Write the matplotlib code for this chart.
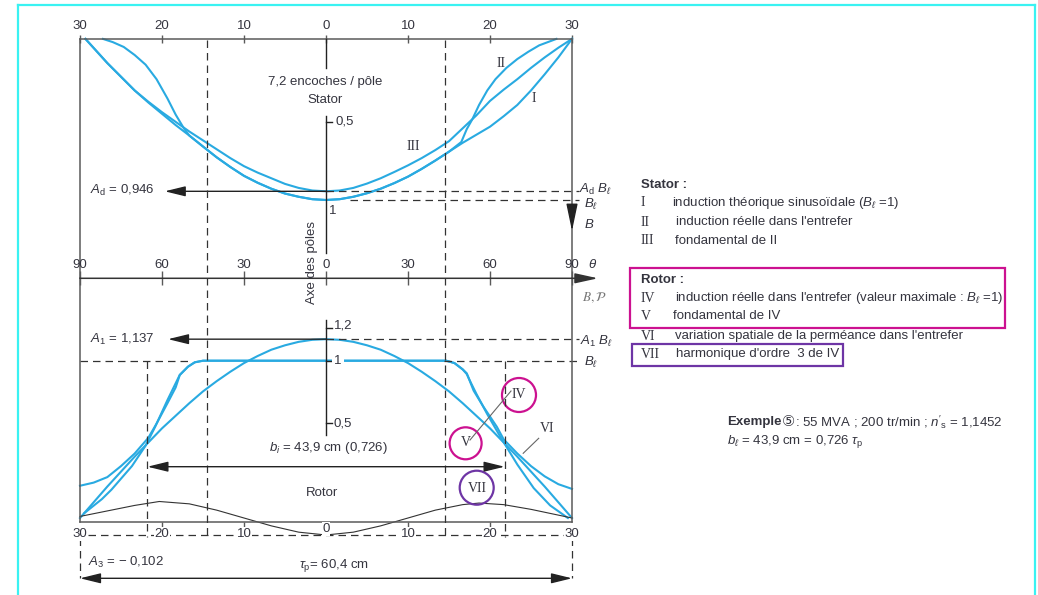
import matplotlib
matplotlib.use('Agg')
import matplotlib.pyplot as plt
from matplotlib import font_manager
from matplotlib.patches import Circle, Rectangle
from matplotlib.transforms import blended_transform_factory


# values (theta in electrical degrees, B in units of B_l)
tick_pos = [-90, -60, -30, 0, 30, 60, 90]
stator_tick_labels = ['30', '20', '10', '0', '10', '20', '30']
theta_tick_labels = ['90', '60', '30', '0', '30', '60', '90']

# stator
theta_I = [-88, -80, -75, -70, -65, -60, -55, -50, -45, -40, -35, -30, -25, -20, -15, -10, -5, 0,
           5, 10, 15, 20, 25, 30, 35, 40, 45, 50, 55, 60, 65, 70, 75, 80, 85, 90]
B_I = [0, 0.15, 0.235, 0.32, 0.395, 0.465, 0.535, 0.6, 0.668, 0.735, 0.795, 0.85, 0.893, 0.93, 0.96, 0.98, 0.995, 1.0,
       0.995, 0.98, 0.958, 0.93, 0.895, 0.855, 0.807, 0.755, 0.7, 0.645, 0.595, 0.545, 0.48, 0.41, 0.32, 0.22, 0.115, 0]
theta_III = [-88, -80, -75, -70, -65, -60, -55, -50, -45, -40, -35, -30, -25, -20, -15, -10, -5, 0,
             5, 10, 15, 20, 25, 30, 35, 40, 45, 50, 55, 60, 65, 70, 75, 80, 85, 90]
B_III = [0, 0.15, 0.235, 0.32, 0.39, 0.455, 0.515, 0.575, 0.63, 0.685, 0.74, 0.79, 0.83, 0.865, 0.9, 0.925, 0.941,
         0.946, 0.941, 0.925, 0.898, 0.865, 0.826, 0.785, 0.74, 0.69, 0.635, 0.555, 0.475, 0.385, 0.315, 0.25, 0.18,
         0.115, 0.055, 0]
theta_II = [-81.6, -78, -74, -70, -66, -62, -58, -55, -52, -50, -45, -40, -35, -30, -25, -20, -15, -10, -5, 0,
            5, 10, 15, 20, 25, 30, 35, 40, 45, 49.5, 51.5, 53.5, 56, 59, 62, 66, 70, 74, 78, 84.3]
B_II = [0, 0.02, 0.05, 0.1, 0.16, 0.25, 0.37, 0.47, 0.555, 0.6, 0.668, 0.735, 0.795, 0.85, 0.893, 0.93, 0.96, 0.98,
        0.995, 1.0, 0.995, 0.98, 0.958, 0.93, 0.895, 0.855, 0.807, 0.755, 0.7, 0.64, 0.56, 0.5, 0.41, 0.32, 0.25,
        0.18, 0.125, 0.08, 0.04, 0]

# rotor
theta_IV = [-88.5, -82, -78.5, -71, -66, -62.5, -58, -53.5, -50.5, -48, -45, 0, 44, 47, 50, 51.5, 53, 55, 59, 64,
            70, 76, 82, 88.5]
B_IV = [0.03, 0.12, 0.18, 0.33, 0.46, 0.58, 0.75, 0.91, 0.962, 0.99, 1.0, 1.0, 1.0, 0.985, 0.945, 0.915, 0.86, 0.79,
        0.66, 0.51, 0.34, 0.19, 0.08, 0.0]
theta_V = [-90, -85, -80, -75, -70, -65, -60, -55, -50, -45, -40, -35, -30, -25, -20, -15, -10, -5, 0,
           5, 10, 15, 20, 25, 30, 35, 40, 45, 50, 55, 60, 65, 70, 75, 80, 85, 90]
B_V = [0, 0.1, 0.2, 0.295, 0.39, 0.48, 0.57, 0.65, 0.73, 0.805, 0.87, 0.93, 0.985, 1.03, 1.07, 1.098, 1.12, 1.133,
       1.137, 1.133, 1.12, 1.098, 1.07, 1.03, 0.985, 0.93, 0.87, 0.805, 0.73, 0.65, 0.57, 0.48, 0.39, 0.295, 0.2, 0.1, 0]
theta_VI = [-90, -85, -80, -75, -70, -65, -62, -58, -55, -53.5, -50.5, -48, -45, 0, 44, 47, 50, 51.5, 54, 57.5,
            62.5, 65, 70, 75, 80, 85, 90]
B_VI = [0.205, 0.225, 0.26, 0.33, 0.41, 0.51, 0.6, 0.73, 0.83, 0.909, 0.962, 0.99, 1.0, 1.0, 1.0, 0.985, 0.945,
        0.92, 0.81, 0.71, 0.58, 0.5, 0.41, 0.33, 0.265, 0.215, 0.185]
theta_VII = [-90, -80, -70, -61, -50, -40, -30, -20, -10, 0, 10, 20, 30, 40, 50, 56, 65, 75, 90]
B_VII = [0.01, 0.045, 0.08, 0.105, 0.09, 0.05, 0.0, -0.05, -0.09, -0.108, -0.09, -0.05, 0.0, 0.05, 0.085, 0.095,
         0.085, 0.055, 0.0]

AD = 0.946
A1 = 1.137
BL = 1.0
BI = 0.726          # b_i / tau_p
SLOT_EDGE = 43.5    # theta of the dashed slot lines

W, H = 1038, 595
BLUE = '#29aae1'
FR = '#5a5a5a'
TXT = '#34343e'
MAG = '#cc1190'
PURP = '#6e35a5'

names = set(f.name for f in font_manager.fontManager.ttflist)
sans = 'Liberation Sans Narrow' if 'Liberation Sans Narrow' in names else 'Liberation Sans'
plt.rcParams['font.family'] = [sans, 'DejaVu Sans']
plt.rcParams['mathtext.fontset'] = 'custom'
plt.rcParams['mathtext.rm'] = sans
plt.rcParams['mathtext.it'] = sans + ':italic'
plt.rcParams['mathtext.bf'] = sans + ':bold'
plt.rcParams['font.size'] = 9.5
plt.rcParams['text.color'] = TXT


def rect(x0, y0, x1, y1):
    return [x0 / W, 1 - y1 / H, (x1 - x0) / W, (y1 - y0) / H]


fig = plt.figure(figsize=(W / 100, H / 100), dpi=100)
ov = fig.add_axes([0, 0, 1, 1])
ov.set_xlim(0, W)
ov.set_ylim(H, 0)
ov.axis('off')
ov.set_zorder(3)

ax_s = fig.add_axes(rect(80, 38.9, 572, 278.3))
ax_s.set_xlim(-90, 90)
ax_s.set_ylim(1.486, 0)
ax_r = fig.add_axes(rect(80, 278.3, 572, 521.7))
ax_r.set_xlim(-90, 90)
ax_r.set_ylim(-0.0235, 1.524)

for ax in (ax_s, ax_r):
    ax.set_facecolor('none')
    for s in ax.spines.values():
        s.set_color(FR)
        s.set_linewidth(1.1)
    ax.set_yticks([])
ax_s.spines['bottom'].set_visible(False)
ax_r.spines['top'].set_visible(False)

ax_s.xaxis.tick_top()
ax_s.set_xticks(tick_pos)
ax_s.set_xticklabels(stator_tick_labels)
ax_s.tick_params(axis='x', direction='inout', length=6, width=1, color=FR, labelcolor=TXT, pad=2, labelsize=9.5)

ax_r.xaxis.tick_top()
ax_r.set_xticks(tick_pos)
ax_r.set_xticklabels(theta_tick_labels)
ax_r.tick_params(axis='x', direction='inout', length=10, width=1, color=FR, labelcolor=TXT, pad=0, labelsize=9.5)
sec = ax_r.secondary_xaxis('bottom')
sec.set_xticks([-60, -30, 30, 60])
sec.tick_params(direction='out', length=4, width=1, color=FR, labelbottom=False)
sec.spines['bottom'].set_visible(False)

# curves
kw = dict(color=BLUE, lw=1.5, clip_on=False, solid_joinstyle='round')
ax_s.plot(theta_I, B_I, **kw)
ax_s.plot(theta_III, B_III, **kw)
ax_s.plot(theta_II, B_II, **kw)
ax_r.plot(theta_IV, B_IV, **kw)
ax_r.plot(theta_V, B_V, **kw)
ax_r.plot(theta_VI, B_VI, **kw)
ax_r.plot(theta_VII, B_VII, color='#333333', lw=0.8, clip_on=False)

dash = dict(color='#333333', lw=0.9, ls=(0, (6, 4)), clip_on=False)
arr = dict(arrowstyle='-|>,head_length=0.9,head_width=0.22', color='#222222', lw=1, mutation_scale=14,
           shrinkA=0, shrinkB=0)
arr2 = dict(arrowstyle='<|-|>,head_length=0.9,head_width=0.22', color='#222222', lw=1, mutation_scale=14,
            shrinkA=0, shrinkB=0)

# amplitude lines
ax_s.annotate('', xy=(-59, AD), xytext=(0, AD), arrowprops=arr, annotation_clip=False)
ax_s.plot([0, 92.5], [AD, AD], **dash)
ax_s.plot([8.8, 92.5], [BL, BL], **dash)
ax_r.annotate('', xy=(-57.8, A1), xytext=(0, A1), arrowprops=arr, annotation_clip=False)
ax_r.plot([0, 92.5], [A1, A1], **dash)
ax_r.plot([-90, -49.5], [BL, BL], **dash)
ax_r.plot([43, 92.5], [BL, BL], **dash)

# vertical dashed lines (x in theta, y in pixels)
bt = blended_transform_factory(ax_r.transData, ov.transData)
for t in (-SLOT_EDGE, SLOT_EDGE):
    ov.plot([t, t], [40, 537], transform=bt, **dash)
for t in (-BI * 90, BI * 90):
    ov.plot([t, t], [360.7, 537], transform=bt, **dash)
for t in (-90, 90):
    ov.plot([t, t], [538, 578], transform=bt, **dash)
ov.plot([-87, 90], [535, 535], transform=bt, **dash)
ov.annotate('', xy=(-BI * 90, 466.7), xytext=(BI * 90, 466.7), xycoords=bt, textcoords=bt, arrowprops=arr2)
ov.annotate('', xy=(-90, 578.3), xytext=(90, 578.3), xycoords=bt, textcoords=bt, arrowprops=arr2)
for t, lab in zip(tick_pos, stator_tick_labels):
    ov.text(t, 529 if lab == '0' else 534, lab, transform=bt, ha='center', va='center',
            bbox=dict(fc='white', ec='none', pad=0.6))

# theta axis and B arrow
ov.annotate('', xy=(598, 278.3), xytext=(80, 278.3),
            arrowprops=dict(arrowstyle='-|>,head_length=1.0,head_width=0.22', color='#333333', lw=1.1,
                            mutation_scale=14, shrinkA=0, shrinkB=0))
ov.annotate('', xy=(572, 231), xytext=(572, 212),
            arrowprops=dict(arrowstyle='-|>,head_length=1.2,head_width=0.25', color='#222222', lw=1,
                            mutation_scale=14, shrinkA=0, shrinkB=0))

# pole axis
for y0, y1 in ((38.9, 68), (116, 253), (320, 435)):
    ov.plot([326, 326], [y0, y1], color='#222222', lw=1)
for y in (122, 328, 360.7, 423):
    ov.plot([326, 332], [y, y], color='#222222', lw=1)
ov.text(335, 122, '0,5', va='center')
ov.text(329, 211, '1', va='center')
ov.text(334, 325, '1,2', va='center')
ov.text(334, 360.7, '1', va='center', bbox=dict(fc='white', ec='none', pad=1.5))
ov.text(334, 423, '0,5', va='center')
ov.text(312, 263, 'Axe des pôles', rotation=90, ha='center', va='center')
ov.text(325, 82, '7,2 encoches / pôle', ha='center', va='center')
ov.text(325, 100, 'Stator', ha='center', va='center')
ov.text(322, 493, 'Rotor', ha='center', va='center')
ov.text(328, 448, r'$b_i$ = 43,9 cm (0,726)', ha='center', va='center')
ov.text(334, 565, r'$\tau_\mathrm{p}$= 60,4 cm', ha='center', va='center')
ov.text(155, 190, r'$A_\mathrm{d}$ = 0,946', ha='right', va='center')
ov.text(155, 339, r'$A_1$ = 1,137', ha='right', va='center')
ov.text(88, 562, r'$A_3$ = $-$ 0,102', ha='left', va='center')

# right side axis labels
ov.text(579, 189, r'$A_\mathrm{d}$ $B_\ell$', va='center')
ov.text(584, 204, r'$B_\ell$', va='center')
ov.text(584, 224, r'$B$', va='center')
ov.text(588, 265, r'$\theta$', va='center')
ov.text(582, 298, r'$B,\mathcal{P}$', va='center', math_fontfamily='stix', color='#777777')
ov.text(580, 341, r'$A_1$ $B_\ell$', va='center')
ov.text(584, 362, r'$B_\ell$', va='center')

# curve labels
serif = dict(family='Liberation Serif', fontsize=10, ha='center', va='center')
ov.text(500.8, 63.3, 'II', **serif)
ov.text(533.5, 98.3, 'I', **serif)
ov.text(413, 146, 'III', **serif)
ov.text(519, 394, 'IV', **serif)
ov.text(466, 442, 'V', **serif)
ov.text(477, 488, 'VII', **serif)
ov.text(547, 429, 'VI', **serif)
ov.plot([470, 511], [440, 391], color='#666666', lw=0.8)
ov.plot([538.7, 523.2], [438.3, 453.3], color='#666666', lw=0.8)
ov.add_patch(Circle((519, 395), 17, fill=False, ec=MAG, lw=1.6))
ov.add_patch(Circle((465.6, 443.3), 16, fill=False, ec=MAG, lw=1.6))
ov.add_patch(Circle((476.7, 487.7), 17, fill=False, ec=PURP, lw=1.6))

# legend
ov.text(641, 185, 'Stator :', fontweight='bold', va='center')
leg_stator = [('I', 672, r'induction théorique sinusoïdale ($B_\ell$ =1)'),
              ('II', 676, "induction réelle dans l'entrefer"),
              ('III', 675, 'fondamental de II')]
for (num, xt, txt), y in zip(leg_stator, (203, 222, 241)):
    ov.text(641, y, num, family='Liberation Serif', fontsize=10, va='center')
    ov.text(xt, y, txt, va='center')
ov.text(641, 280, 'Rotor :', fontweight='bold', va='center')
leg_rotor = [('IV', 675, r"induction réelle dans l'entrefer (valeur maximale : $B_\ell$ =1)"),
             ('V', 673, 'fondamental de IV'),
             ('VI', 675, "variation spatiale de la perméance dans l'entrefer"),
             ('VII', 676, "harmonique d'ordre  3 de IV")]
for (num, xt, txt), y in zip(leg_rotor, (298, 316, 336, 354)):
    ov.text(641, y, num, family='Liberation Serif', fontsize=10, va='center')
    ov.text(xt, y, txt, va='center')
ov.add_patch(Rectangle((630, 268), 375, 60, fill=False, ec=MAG, lw=1.6))
ov.add_patch(Rectangle((632, 344), 211, 22, fill=False, ec=PURP, lw=1.6))

t1 = ov.text(727, 422, 'Exemple', fontweight='bold', va='center')
t2 = ov.annotate('⑤', xy=(1, 0.5), xycoords=t1, xytext=(0.5, 0), textcoords='offset points',
                 family='DejaVu Sans', fontsize=10.5, va='center')
ov.annotate(r": 55 MVA ; 200 tr/min ; $n'_\mathrm{s}$ = 1,1452", xy=(1, 0.5), xycoords=t2,
            xytext=(0, 0), textcoords='offset points', va='center')
ov.text(727, 442, r'$b_\ell$ = 43,9 cm = 0,726 $\tau_\mathrm{p}$', va='center')

# page frame
cy = dict(color='#3af2f2', lw=1.6)
ov.plot([18, 18], [4.7, H], **cy)
ov.plot([18, 1035], [4.7, 4.7], **cy)
ov.plot([1035, 1035], [4.7, H], **cy)

fig.savefig('out.png', dpi=100)
